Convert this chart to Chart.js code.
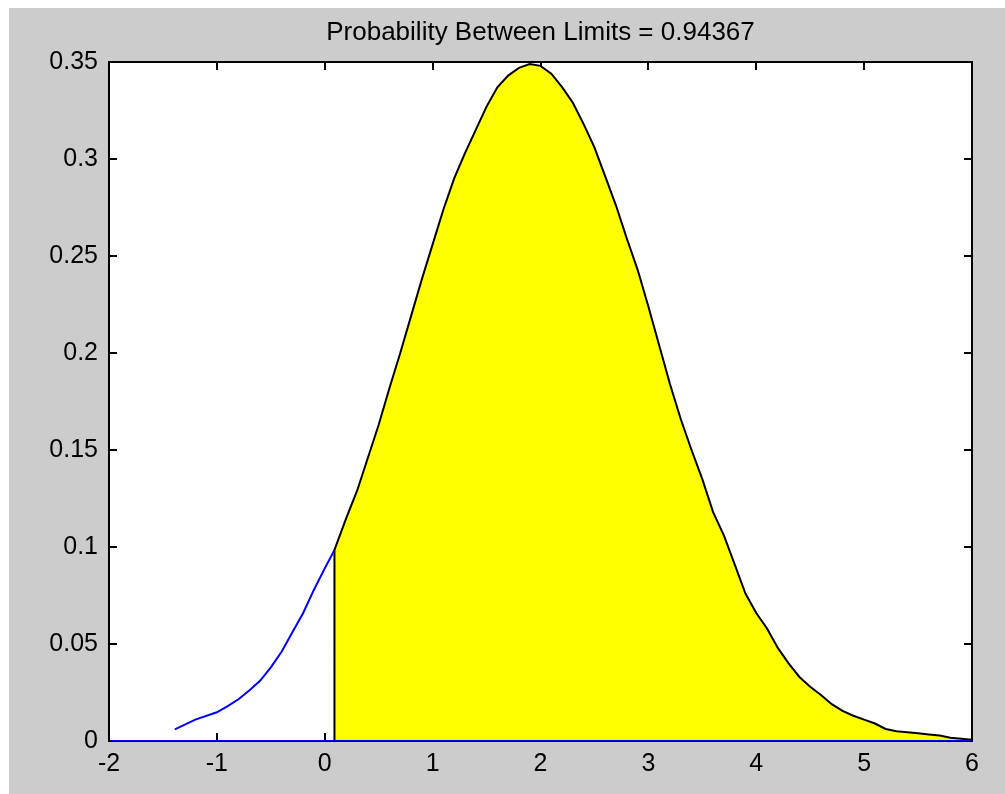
<!DOCTYPE html>
<html>
<head>
<meta charset="utf-8">
<script src="https://cdn.jsdelivr.net/npm/chart.js@4.4.1/dist/chart.umd.min.js"></script>
<style>
  html, body { margin: 0; padding: 0; background: #ffffff; }
  #pdfChart { position: absolute; left: 9px; top: 8px; }
</style>
</head>
<body>
<canvas id="pdfChart" width="996" height="786"></canvas>
<script>
// density curve left of the lower limit (drawn as a plain line)
const tailX = [-1.39, -1.2, -1.0, -0.9, -0.8, -0.7, -0.6, -0.5, -0.4, -0.3, -0.2, -0.1, 0.0, 0.09];
const tailY = [0.006, 0.011, 0.0148, 0.018, 0.0215, 0.026, 0.031, 0.038, 0.046, 0.056, 0.066, 0.078, 0.089, 0.0985];

// density curve between the limits (shaded)
const areaX = [0.09, 0.2, 0.3, 0.4, 0.5, 0.6, 0.7, 0.8, 0.9, 1.0, 1.1, 1.2, 1.3, 1.4, 1.5, 1.6, 1.7, 1.8,
  1.9, 2.0, 2.1, 2.2, 2.3, 2.4, 2.5, 2.6, 2.7, 2.8, 2.9, 3.0, 3.1, 3.2, 3.3, 3.4, 3.5, 3.6, 3.7, 3.8,
  3.9, 4.0, 4.1, 4.2, 4.3, 4.4, 4.5, 4.6, 4.7, 4.8, 4.9, 5.0, 5.1, 5.2, 5.3, 5.4, 5.5, 5.6, 5.7, 5.8,
  5.9, 6.0];
const areaY = [0.0985, 0.115, 0.129, 0.146, 0.163, 0.182, 0.200, 0.219, 0.238, 0.256, 0.274, 0.290, 0.303, 0.315, 0.327, 0.337, 0.343, 0.347,
  0.349, 0.348, 0.344, 0.337, 0.329, 0.318, 0.306, 0.291, 0.276, 0.259, 0.243, 0.224, 0.204, 0.184, 0.166, 0.150, 0.135, 0.118, 0.106, 0.091,
  0.076, 0.066, 0.058, 0.048, 0.040, 0.033, 0.028, 0.0237, 0.019, 0.0155, 0.013, 0.011, 0.009, 0.0062, 0.005, 0.0045, 0.004, 0.0034, 0.0028, 0.0017,
  0.0012, 0.0006];

const xTickLabels = ['-2', '-1', '0', '1', '2', '3', '4', '5', '6'];
const yTickLabels = ['0', '0.05', '0.1', '0.15', '0.2', '0.25', '0.3', '0.35'];
const probability = 0.94367;

const lowerLimit = areaX[0];
const upperLimit = areaX[areaX.length - 1];

const tailPoints = tailX.map((x, i) => ({ x: x, y: tailY[i] }));
const areaPoints = [{ x: lowerLimit, y: 0 }]
  .concat(areaX.map((x, i) => ({ x: x, y: areaY[i] })))
  .concat([{ x: upperLimit, y: 0 }]);

const FAMILY = "'Liberation Sans', Arial, sans-serif";
const TICK_FONT = { family: FAMILY, size: 25 };
const titleText = 'Probability Between Limits = ' + probability;

// grey figure, white axes, boxed frame with inward ticks on all four sides,
// title centred over the axes
const matlabFrame = {
  id: 'matlabFrame',
  beforeDraw(chart) {
    const { ctx, chartArea: a } = chart;
    ctx.save();
    ctx.fillStyle = '#cccccc';
    ctx.fillRect(0, 0, chart.width, chart.height);
    ctx.fillStyle = '#ffffff';
    ctx.fillRect(a.left, a.top, a.right - a.left, a.bottom - a.top);
    ctx.restore();
  },
  beforeDatasetsDraw(chart) {
    const { ctx, chartArea: a, scales } = chart;
    const len = 8;
    ctx.save();
    ctx.strokeStyle = '#000000';
    ctx.lineWidth = 2;
    ctx.beginPath();
    scales.x.ticks.forEach(t => {
      const px = Math.round(scales.x.getPixelForValue(t.value));
      ctx.moveTo(px, a.bottom); ctx.lineTo(px, a.bottom - len);
      ctx.moveTo(px, a.top); ctx.lineTo(px, a.top + len);
    });
    scales.y.ticks.forEach(t => {
      const py = Math.round(scales.y.getPixelForValue(t.value));
      ctx.moveTo(a.left, py); ctx.lineTo(a.left + len, py);
      ctx.moveTo(a.right, py); ctx.lineTo(a.right - len, py);
    });
    ctx.stroke();
    ctx.strokeRect(a.left, a.top, a.right - a.left, a.bottom - a.top);
    ctx.restore();
  },
  afterDraw(chart) {
    const { ctx, chartArea: a } = chart;
    ctx.save();
    ctx.fillStyle = '#000000';
    ctx.font = '26px ' + FAMILY;
    ctx.textAlign = 'center';
    ctx.textBaseline = 'middle';
    ctx.fillText(titleText, (a.left + a.right) / 2, 25);
    ctx.restore();
  }
};

new Chart(document.getElementById('pdfChart'), {
  type: 'line',
  data: {
    datasets: [
      {
        label: 'axis',
        data: [{ x: -2, y: 0 }, { x: 6, y: 0 }],
        borderColor: '#0000ff',
        borderWidth: 2,
        pointRadius: 0,
        fill: false
      },
      {
        label: 'tail',
        data: tailPoints,
        borderColor: '#0000ff',
        borderWidth: 2,
        pointRadius: 0,
        fill: false
      },
      {
        label: 'between limits',
        data: areaPoints,
        borderColor: '#000000',
        borderWidth: 2,
        backgroundColor: '#ffff00',
        pointRadius: 0,
        fill: 'origin'
      }
    ]
  },
  options: {
    responsive: false,
    animation: false,
    layout: { padding: { left: 0, right: 33, top: 54, bottom: 0 } },
    plugins: {
      legend: { display: false },
      tooltip: { enabled: false },
      title: { display: false }
    },
    scales: {
      x: {
        type: 'linear',
        min: -2,
        max: 6,
        afterFit(scale) { scale.height = 53; },
        border: { display: false },
        grid: { drawOnChartArea: false, drawTicks: false, tickLength: 0 },
        ticks: {
          stepSize: 1,
          padding: 8,
          color: '#000000',
          font: TICK_FONT,
          maxRotation: 0,
          callback: (v, i) => xTickLabels[i]
        }
      },
      y: {
        min: 0,
        max: 0.35,
        afterFit(scale) { scale.width = 100; },
        border: { display: false },
        grid: { drawOnChartArea: false, drawTicks: false, tickLength: 0 },
        ticks: {
          stepSize: 0.05,
          padding: 11,
          color: '#000000',
          font: TICK_FONT,
          callback: (v, i) => yTickLabels[i]
        }
      }
    }
  },
  plugins: [matlabFrame]
});
</script>
</body>
</html>
